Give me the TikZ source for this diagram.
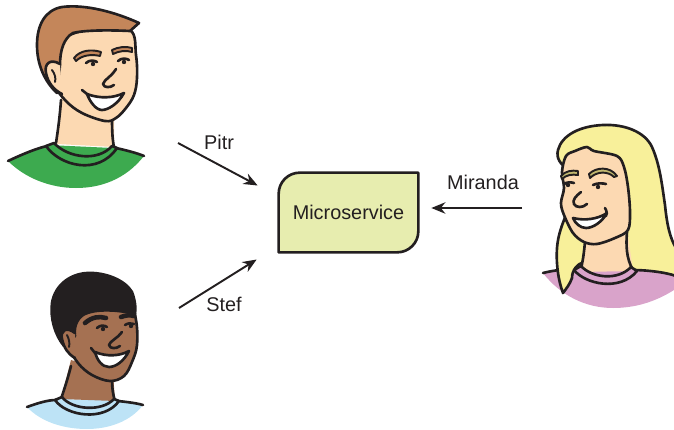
\documentclass[tikz,border=0pt]{standalone}
\usepackage{fontspec}
\setmainfont{Liberation Sans}
\usetikzlibrary{arrows.meta, positioning, calc, backgrounds}
\definecolor{inkblack}{HTML}{231F20}
\definecolor{skinlight}{HTML}{FCD9B2}
\definecolor{skindark}{HTML}{A57152}
\definecolor{pitrhair}{HTML}{C4865A}
\definecolor{pitrshirt}{HTML}{3DAA4F}
\definecolor{stefshirt}{HTML}{BDE3F6}
\definecolor{mirahair}{HTML}{F8F09A}
\definecolor{mirabrow}{HTML}{C2B870}
\definecolor{mirashirt}{HTML}{D9A3CA}
\definecolor{svcfill}{HTML}{E7EDAF}

\begin{document}
\begin{tikzpicture}[
    x=0.02cm, y=-0.02cm,
    ink/.style={draw=inkblack, line width=1.5pt, line join=round, line cap=round},
    flow/.style={draw=inkblack, line width=1.1pt, -{Stealth[length=8pt, width=6.5pt]}},
    tag/.style={font=\fontsize{11.3}{13}\selectfont, text=inkblack, inner sep=1pt},
    service/.style={minimum width=2.78cm, minimum height=1.58cm, inner sep=0pt, font=\fontsize{11.3}{13}\selectfont, text=inkblack},
]
\useasboundingbox (0,0) rectangle (674,430);

% Pitr (top left)
\fill[pitrshirt] (8,161) .. controls (25,153) and (40,148) .. (48,145) -- (113,148)
    .. controls (125,150) and (137,153) .. (144,156)
    .. controls (125,180) and (100,188) .. (76,188)
    .. controls (50,188) and (25,178) .. (8,161) -- cycle;
\fill[skinlight] (61,98) -- (57,144) -- (114,147) -- (114,112) -- cycle;
\draw[ink] (61,100) .. controls (60,115) and (58,130) .. (56,143);
\draw[ink] (112,115) .. controls (112,125) and (112,138) .. (114,147);
\filldraw[pitrshirt, ink] (46,146) .. controls (60,166) and (98,176) .. (117,148)
    -- (112,146) .. controls (98,162) and (68,158) .. (54,143) -- cycle;
\draw[ink] (8,161) .. controls (25,153) and (38,148) .. (47,146);
\draw[ink] (116,148) .. controls (125,150) and (137,153) .. (144,156);
\filldraw[skinlight, ink] plot[smooth cycle, tension=0.6] coordinates {
    (60,40) (95,28) (130,30) (136,55) (137,78) (134,95) (126,108) (116,118)
    (105,121) (82,113) (66,101) (55,85) (52,60)};
\filldraw[pitrhair, ink] (57,93) .. controls (45,82) and (37,65) .. (37,45)
    .. controls (37,25) and (45,10) .. (62,7) .. controls (85,4) and (115,12) .. (139,23)
    -- (130,31) .. controls (110,30) and (85,30) .. (73,33)
    .. controls (64,38) and (60,50) .. (60,65) -- cycle;
\filldraw[skinlight, ink] (60,64) .. controls (50,58) and (44,64) .. (46,73)
    .. controls (48,83) and (54,90) .. (62,94);
\draw[ink, line width=1.1pt] (52,70) .. controls (55,74) and (56,78) .. (55,82);
\filldraw[pitrhair, ink, line width=1.1pt] (74,58) .. controls (80,50) and (92,49) .. (101,52)
    -- (100,56) .. controls (92,54) and (82,55) .. (76,61) -- cycle;
\filldraw[pitrhair, ink, line width=1.1pt] (112,50) .. controls (118,47) and (126,46) .. (132,48)
    -- (132,52) .. controls (126,50) and (119,51) .. (113,54) -- cycle;
\draw[ink] (86,63) .. controls (89,60) and (94,60) .. (97,62);
\fill[inkblack] (93,64) circle (2.2);
\draw[ink] (118,61) .. controls (121,58) and (126,58) .. (129,60);
\fill[inkblack] (124,62) circle (2.2);
\draw[ink] (116,69) .. controls (112,76) and (104,80) .. (103,84)
    .. controls (104,88) and (110,88) .. (114,85);
\filldraw[white, ink] (87,94) .. controls (100,99) and (114,98) .. (124,93)
    .. controls (118,104) and (108,110) .. (102,110)
    .. controls (96,110) and (90,102) .. (87,94) -- cycle;
\draw[ink] (82,90) -- (87,94);

% Stef (bottom left)
\fill[stefshirt] (27,407) .. controls (40,402) and (50,400) .. (57,399) -- (117,400)
    .. controls (127,401) and (137,403) .. (143,405)
    .. controls (130,422) and (108,429) .. (87,429)
    .. controls (62,429) and (40,421) .. (27,407) -- cycle;
\fill[skindark] (71,360) -- (61,399) -- (115,401) -- (113,372) -- cycle;
\draw[ink] (71,366) .. controls (68,378) and (64,390) .. (61,399);
\draw[ink] (112,378) .. controls (112,388) and (113,395) .. (115,401);
\filldraw[stefshirt, ink] (55,400) .. controls (66,416) and (104,422) .. (119,401)
    -- (114,399) .. controls (102,412) and (72,410) .. (62,397) -- cycle;
\draw[ink] (27,407) .. controls (38,403) and (48,400) .. (56,400);
\draw[ink] (118,401) .. controls (127,402) and (136,403) .. (143,405);
\filldraw[skindark, ink] plot[smooth cycle, tension=0.6] coordinates {
    (70,300) (100,292) (128,298) (136,320) (137,345) (132,362) (124,376)
    (110,381) (92,375) (78,363) (68,345) (64,325)};
\filldraw[inkblack, ink] (64,346) .. controls (55,335) and (50,318) .. (52,303)
    .. controls (55,285) and (70,274) .. (87,273) .. controls (105,272) and (125,280) .. (132,292)
    .. controls (135,300) and (136,308) .. (135,314)
    .. controls (120,310) and (95,308) .. (83,315)
    .. controls (76,320) and (74,328) .. (75,336) -- cycle;
\filldraw[skindark, ink] (75,333) .. controls (66,326) and (60,331) .. (62,339)
    .. controls (64,348) and (68,354) .. (75,358);
\draw[ink, line width=1.1pt] (67,335) .. controls (69,339) and (70,343) .. (69,347);
\draw[ink, line width=2.6pt] (85,323) .. controls (92,317) and (99,316) .. (106,318);
\draw[ink, line width=2.6pt] (121,317) .. controls (126,315) and (130,315) .. (134,316);
\draw[ink] (97,328) .. controls (100,325) and (104,325) .. (107,327);
\fill[inkblack] (103,329) circle (2.2);
\draw[ink] (125,325) .. controls (128,323) and (131,323) .. (134,324);
\fill[inkblack] (131,326) circle (2.2);
\draw[ink] (122,332) .. controls (118,338) and (110,341) .. (109,345)
    .. controls (110,349) and (116,349) .. (120,346);
\filldraw[white, ink] (95,352) .. controls (107,357) and (120,356) .. (129,351)
    .. controls (124,361) and (116,367) .. (109,367)
    .. controls (102,367) and (97,360) .. (95,352) -- cycle;
\draw[ink] (91,348) -- (95,353);

% Miranda (right)
\fill[mirashirt] (543,273) .. controls (555,270) and (565,270) .. (576,270) -- (674,270)
    -- (674,290) .. controls (655,302) and (635,308) .. (613,308)
    .. controls (585,308) and (560,295) .. (543,273) -- cycle;
\draw[ink] (543,273) .. controls (555,270) and (565,269) .. (576,270);
\filldraw[mirahair, ink] (563,293) .. controls (558,280) and (556,262) .. (557,248)
    .. controls (558,235) and (562,225) .. (566,215) -- (570,170)
    .. controls (560,165) and (556,158) .. (558,150)
    .. controls (562,135) and (580,126) .. (603,125)
    .. controls (625,124) and (645,132) .. (652,147)
    .. controls (660,165) and (662,185) .. (665,205)
    .. controls (667,225) and (670,238) .. (676,248)
    -- (676,276) .. controls (665,272) and (645,270) .. (633,270)
    -- (584,262) .. controls (577,264) and (572,270) .. (572,278)
    .. controls (570,284) and (566,289) .. (563,293) -- cycle;
\fill[skinlight] (585,238) -- (580,272) -- (633,271) -- (627,228) -- cycle;
\draw[ink] (585,242) .. controls (584,252) and (583,262) .. (580,272);
\draw[ink] (627,232) .. controls (626,245) and (626,258) .. (633,270);
\filldraw[mirashirt, ink] (574,270) .. controls (585,284) and (620,292) .. (637,271)
    -- (631,267) .. controls (618,281) and (592,278) .. (581,266) -- cycle;
\filldraw[skinlight, ink] plot[smooth cycle, tension=0.55] coordinates {
    (566,156) (575,151) (587,147) (594,151) (617,156) (624,167) (628,187)
    (630,212) (628,230) (615,238) (597,244) (584,242) (573,233) (564,215)
    (561,203) (564,188) (562,172)};
\filldraw[mirabrow, ink, line width=1.1pt] (561,176) .. controls (565,171) and (572,170) .. (578,171)
    -- (578,175) .. controls (572,174) and (566,175) .. (562,179) -- cycle;
\filldraw[mirabrow, ink, line width=1.1pt] (589,174) .. controls (596,167) and (610,166) .. (617,176)
    -- (614,177) .. controls (608,171) and (597,171) .. (590,178) -- cycle;
\draw[ink] (564,184) .. controls (567,182) and (571,182) .. (574,183);
\fill[inkblack] (568,185) circle (2.2);
\draw[ink] (593,185) .. controls (597,183) and (602,183) .. (606,184);
\fill[inkblack] (598,187) circle (2.2);
\draw[ink] (581,192) .. controls (576,196) and (572,200) .. (574,204)
    .. controls (576,208) and (583,208) .. (587,204);
\filldraw[white, ink] (573,218) .. controls (585,221) and (598,219) .. (607,213)
    .. controls (602,222) and (593,228) .. (586,228)
    .. controls (580,228) and (575,223) .. (573,218) -- cycle;
\draw[ink] (605,208) .. controls (607,211) and (607,214) .. (606,216);

% service box
\node[service] (svc) at (348.5,212.5) {Microservice};
\begin{pgfonlayer}{background}
\filldraw[fill=svcfill, ink] (svc.south west) [rounded corners=12pt] -- (svc.north west)
    [sharp corners] -- (svc.north east) [rounded corners=12pt] -- (svc.south east)
    [sharp corners] -- cycle;
\end{pgfonlayer}

% requests
\coordinate (pitr-src) at (178,143);
\coordinate (stef-src) at (179,308);
\coordinate (mira-src) at (522,208);
\coordinate (pitr-hit) at ($(svc.west)+(-21,-27)$);
\coordinate (stef-hit) at ($(svc.west)+(-22,47)$);
\coordinate (mira-hit) at ($(svc.east)+(13,-4.5)$);
\draw[flow] (pitr-src) -- (pitr-hit);
\draw[flow] (stef-src) -- (stef-hit);
\draw[flow] (mira-src) -- (mira-hit);
\node[tag] (pitr-tag) at (219,142) {Pitr};
\node[tag] (stef-tag) at (224,304) {Stef};
\node[tag] (mira-tag) at (483,182) {Miranda};

\end{tikzpicture}
\end{document}
